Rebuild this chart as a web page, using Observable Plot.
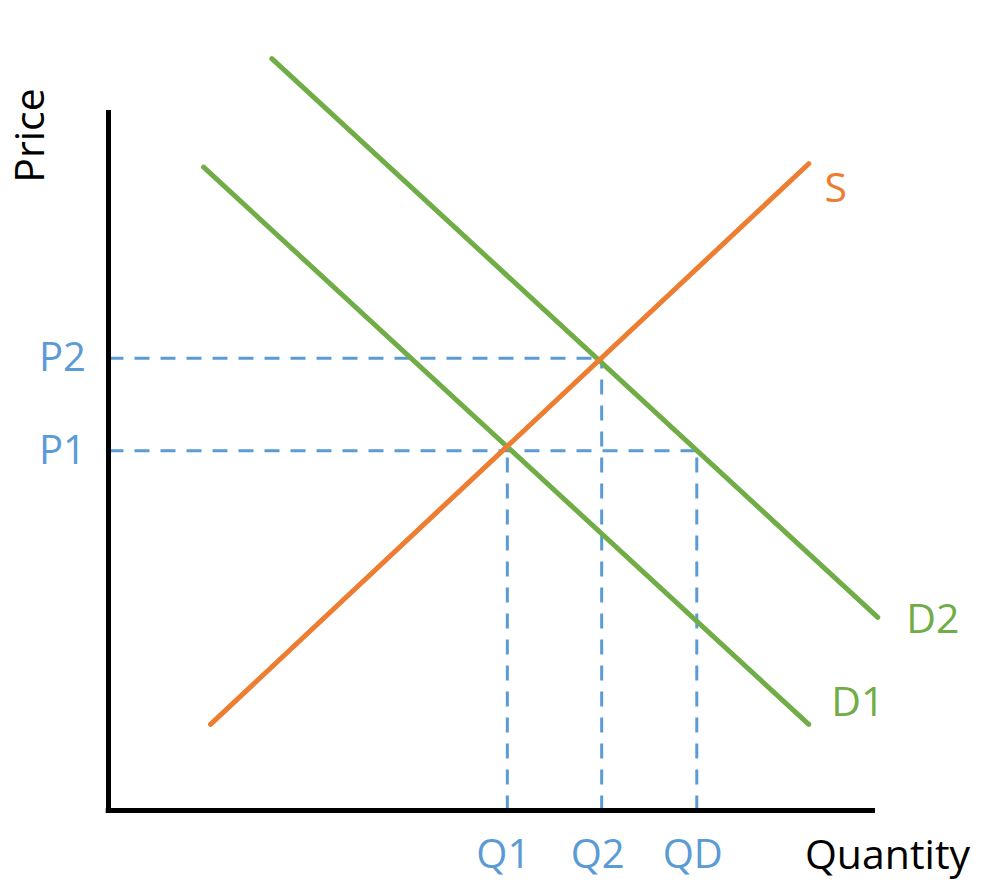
<!DOCTYPE html>
<html>
<head>
<meta charset="utf-8">
<script src="https://cdn.jsdelivr.net/npm/d3@7"></script>
<script src="https://cdn.jsdelivr.net/npm/@observablehq/plot@0.6"></script>
<style>
  html, body { margin: 0; padding: 0; background: #fff; }
  svg { display: block; }
</style>
</head>
<body>
<div id="chart"></div>
<script>
// Curve endpoints (quantity, price) in abstract units 0..100
const supplyQ = [13.3, 91.3];
const supplyP = [12.3, 92.4];
const d1Q = [12.4, 91.3];
const d1P = [91.9, 12.3];
const d2Q = [21.3, 100.3];
const d2P = [107.4, 27.6];

// Equilibrium guide values
const priceLabels = ["P1", "P2"];
const priceValues = [51.4, 64.6];
const priceGuideEnd = [76.7, 64.3];      // P1 runs to QD, P2 runs to Q2
const quantityLabels = ["Q1", "Q2", "QD"];
const quantityValues = [52.0, 64.3, 76.7];
const quantityGuideTop = [51.4, 64.6, 51.4];

const curveLabels = ["S", "D1", "D2"];

const blue = "#5B9BD5", orange = "#ED7D31", green = "#70AD47";
const font = "'Open Sans', sans-serif";

const toPts = (qs, ps) => qs.map((q, i) => ({q, p: ps[i]}));
const supply = toPts(supplyQ, supplyP);
const d1 = toPts(d1Q, d1P);
const d2 = toPts(d2Q, d2P);
const hGuides = priceLabels.map((l, i) => ({label: l, p: priceValues[i], q2: priceGuideEnd[i]}));
const vGuides = quantityLabels.map((l, i) => ({label: l, q: quantityValues[i], p2: quantityGuideTop[i]}));

const chart = Plot.plot({
  width: 986,
  height: 888,
  marginLeft: 108,
  marginRight: 111,
  marginTop: 110,
  marginBottom: 78,
  x: {domain: [0, 100], axis: null},
  y: {domain: [0, 100], axis: null},
  style: {fontFamily: font, background: "#fff"},
  marks: [
    // dashed guides
    Plot.link(hGuides, {x1: 0, x2: "q2", y1: "p", y2: "p", stroke: blue, strokeWidth: 3, strokeDasharray: "15,11"}),
    Plot.link(vGuides, {x1: "q", x2: "q", y1: 0, y2: "p2", stroke: blue, strokeWidth: 3, strokeDasharray: "15,11"}),
    // curves
    Plot.line(d2, {x: "q", y: "p", stroke: green, strokeWidth: 5}),
    Plot.line(d1, {x: "q", y: "p", stroke: green, strokeWidth: 5}),
    Plot.line(supply, {x: "q", y: "p", stroke: orange, strokeWidth: 5}),
    // axes
    Plot.ruleX([0], {y1: 0, y2: 100, stroke: "#000", strokeWidth: 5}),
    Plot.ruleY([0], {x1: -0.3, x2: 100, stroke: "#000", strokeWidth: 5}),
    // axis labels
    Plot.text(["Price"], {x: 0, y: 100, dx: -78, dy: 25, rotate: -90, fontSize: 41, fill: "#000", textAnchor: "middle", lineAnchor: "middle"}),
    Plot.text(["Quantity"], {x: 100, y: 0, dx: 12, dy: 45, fontSize: 41, fill: "#000", textAnchor: "middle", lineAnchor: "middle"}),
    // guide labels
    Plot.text(hGuides, {x: 0, y: "p", text: "label", dx: -46, fontSize: 40, fill: blue, textAnchor: "middle", lineAnchor: "middle"}),
    Plot.text(vGuides, {x: "q", y: 0, text: "label", dx: -4, dy: 45, fontSize: 40, fill: blue, textAnchor: "middle", lineAnchor: "middle"}),
    // curve labels
    Plot.text([supply[1]], {x: "q", y: "p", text: () => curveLabels[0], dx: 27, dy: 25, fontSize: 41, fill: orange, textAnchor: "middle", lineAnchor: "middle"}),
    Plot.text([d1[1]], {x: "q", y: "p", text: () => curveLabels[1], dx: 49, dy: -22, fontSize: 41, fill: green, textAnchor: "middle", lineAnchor: "middle"}),
    Plot.text([d2[1]], {x: "q", y: "p", text: () => curveLabels[2], dx: 55, dy: 3, fontSize: 41, fill: green, textAnchor: "middle", lineAnchor: "middle"})
  ]
});
document.getElementById("chart").appendChild(chart);
</script>
</body>
</html>
